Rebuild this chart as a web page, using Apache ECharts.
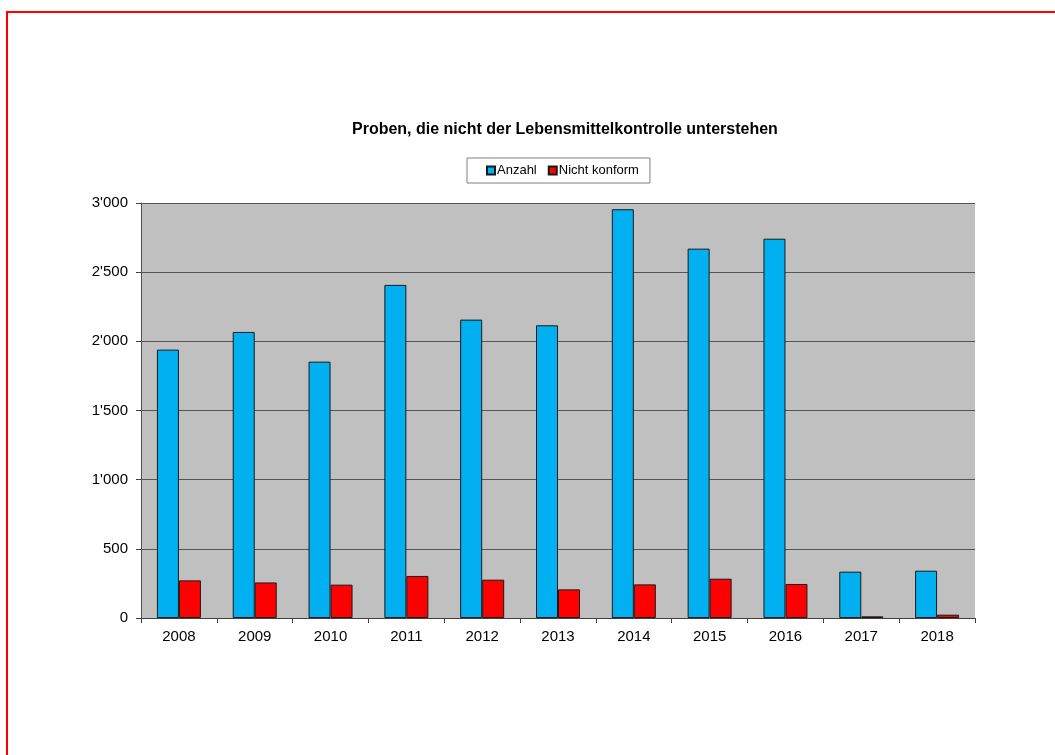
<!DOCTYPE html>
<html>
<head>
<meta charset="utf-8">
<script src="https://cdn.jsdelivr.net/npm/echarts@6/dist/echarts.min.js"></script>
<style>
  html, body { margin: 0; padding: 0; background: #ffffff; }
  #chart { width: 1055px; height: 755px; }
</style>
</head>
<body>
<div id="chart"></div>
<script>
// Jahre und Probenzahlen
const years = ['2008', '2009', '2010', '2011', '2012', '2013', '2014', '2015', '2016', '2017', '2018'];
const anzahl = [1940, 2068, 1853, 2408, 2157, 2116, 2955, 2670, 2742, 335, 342];
const nichtKonform = [272, 257, 241, 304, 277, 207, 243, 284, 246, 12, 24];
const seriesNames = ['Anzahl', 'Nicht konform'];
const titleText = 'Proben, die nicht der Lebensmittelkontrolle unterstehen';

const font = 'Liberation Sans, Arial, sans-serif';

// Tausendertrennzeichen mit Apostroph (3'000)
function formatTick(v) {
  return String(v).replace(/\B(?=(\d{3})+(?!\d))/g, "'");
}

const chart = echarts.init(document.getElementById('chart'), null, { renderer: 'canvas' });

chart.setOption({
  backgroundColor: '#ffffff',
  animation: false,
  title: {
    text: titleText,
    left: 347,
    top: 117,
    textStyle: { fontFamily: font, fontSize: 16, fontWeight: 'bold', color: '#000000' }
  },
  legend: {
    data: seriesNames,
    left: 467,
    top: 158,
    padding: [6, 11, 6, 19],
    itemWidth: 8,
    itemHeight: 8,
    itemGap: 11,
    borderColor: '#808080',
    borderWidth: 1,
    icon: 'rect',
    textStyle: { fontFamily: font, fontSize: 13, color: '#000000', padding: [0, 0, 0, -3] }
  },
  grid: {
    left: 141,
    right: 80,
    top: 203,
    bottom: 137,
    show: true,
    backgroundColor: '#c0c0c0',
    borderWidth: 0
  },
  xAxis: {
    type: 'category',
    data: years,
    axisLine: { lineStyle: { color: '#404040', width: 1 } },
    axisTick: { show: true, length: 5, lineStyle: { color: '#404040' } },
    axisLabel: { fontFamily: font, fontSize: 15, color: '#000000', margin: 11 }
  },
  yAxis: {
    type: 'value',
    min: 0,
    max: 3000,
    interval: 500,
    axisLine: { show: true, lineStyle: { color: '#505050', width: 1 } },
    axisTick: { show: true, length: 5, lineStyle: { color: '#404040' } },
    splitLine: { show: true, lineStyle: { color: '#555555', width: 1 } },
    axisLabel: { fontFamily: font, fontSize: 15, color: '#000000', margin: 13, formatter: formatTick }
  },
  series: [
    {
      name: seriesNames[0],
      type: 'bar',
      data: anzahl,
      barWidth: 22,
      barGap: '0%',
      itemStyle: { color: '#00b0f0', borderColor: '#1a1a1a', borderWidth: 1 }
    },
    {
      name: seriesNames[1],
      type: 'bar',
      data: nichtKonform,
      barWidth: 22,
      barGap: '0%',
      itemStyle: { color: '#ff0000', borderColor: '#1a1a1a', borderWidth: 1 }
    }
  ],
  graphic: [
    {
      type: 'rect',
      shape: { x: 7, y: 12, width: 1200, height: 900 },
      style: { fill: 'none', stroke: '#ff0000', lineWidth: 2 },
      silent: true,
      z: 100
    }
  ]
});
</script>
</body>
</html>
